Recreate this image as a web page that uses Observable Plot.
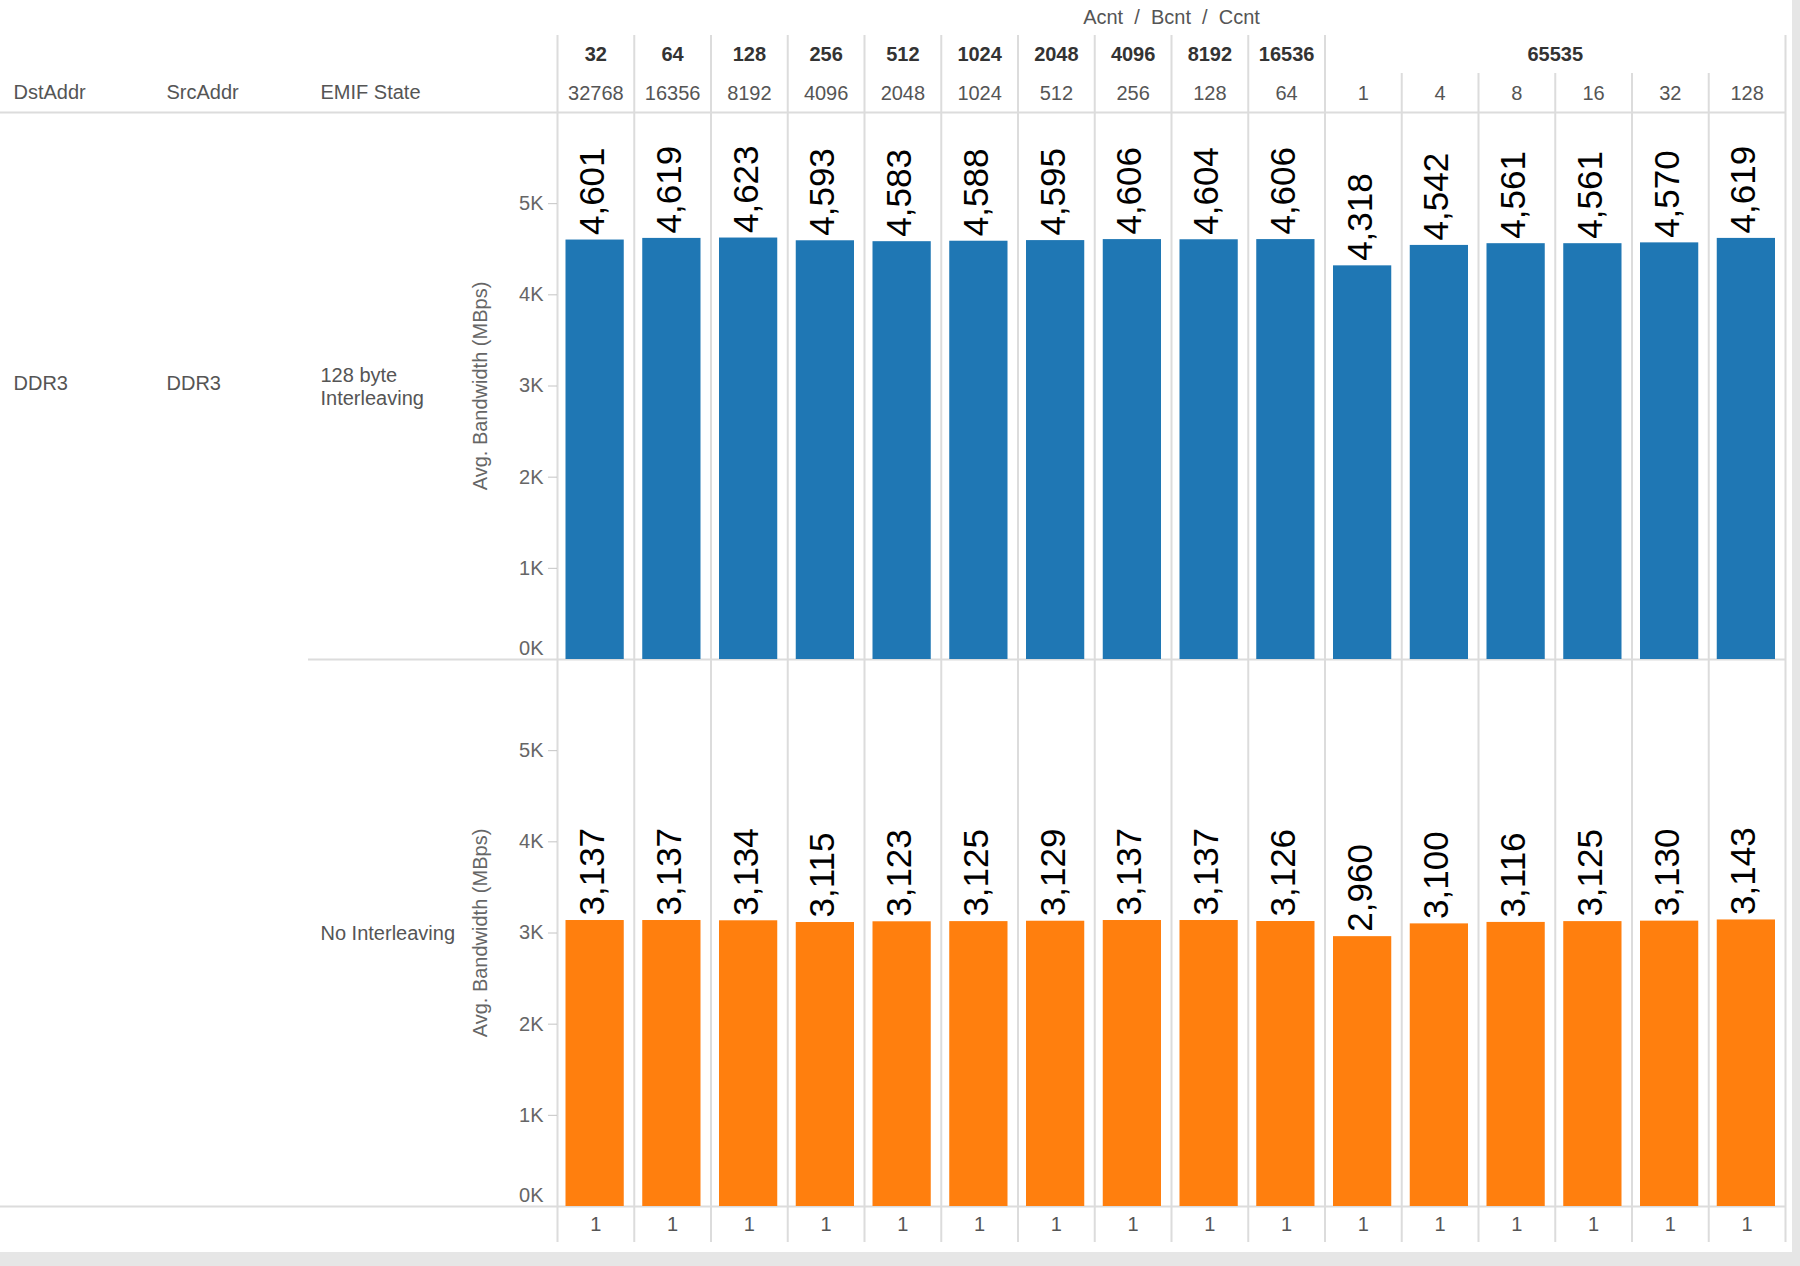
<!DOCTYPE html>
<html>
<head>
<meta charset="utf-8">
<script src="https://cdn.jsdelivr.net/npm/d3@7"></script>
<script src="https://cdn.jsdelivr.net/npm/@observablehq/plot@0.6"></script>
<style>
  html, body { margin: 0; padding: 0; background: #ffffff; }
  #wrap { position: relative; width: 1800px; height: 1266px; background: #e6e6e6; overflow: hidden; }
  #paper { position: absolute; left: 0; top: 0; width: 1792px; height: 1252px; background: #ffffff; }
  #chart { position: absolute; left: 0; top: 0; }
</style>
</head>
<body>
<div id="wrap"><div id="paper"></div><div id="chart"></div></div>
<script>
// ---- data ----
const headerTitle = "Acnt\u00a0 /\u00a0 Bcnt\u00a0 /\u00a0 Ccnt";
const dimNames = ["DstAddr", "SrcAddr", "EMIF State"];
const dstAddr = ["DDR3"];
const srcAddr = ["DDR3"];
const states = ["128 byte Interleaving", "No Interleaving"];
const stateLabels = ["128 byte\nInterleaving", "No Interleaving"];
const acnt = [32, 64, 128, 256, 512, 1024, 2048, 4096, 8192, 16536, 65535, 65535, 65535, 65535, 65535, 65535];
const bcnt = [32768, 16356, 8192, 4096, 2048, 1024, 512, 256, 128, 64, 1, 4, 8, 16, 32, 128];
const ccnt = [1, 1, 1, 1, 1, 1, 1, 1, 1, 1, 1, 1, 1, 1, 1, 1];
const bwInterleave = [4601, 4619, 4623, 4593, 4583, 4588, 4595, 4606, 4604, 4606, 4318, 4542, 4561, 4561, 4570, 4619];
const bwNone = [3137, 3137, 3134, 3115, 3123, 3125, 3129, 3137, 3137, 3126, 2960, 3100, 3116, 3125, 3130, 3143];
const yTicks = [0, 1000, 2000, 3000, 4000, 5000];
const yDomain = [0, 6000];
const yLabel = "Avg. Bandwidth (MBps)";
const colors = ["#1f77b4", "#ff7f0e"];

// ---- derived tables ----
const n = acnt.length;
const rows = [];
[bwInterleave, bwNone].forEach((vals, k) =>
  vals.forEach((v, i) => rows.push({i, state: states[k], value: v})));
const bounds = d3.range(n + 1);
const isMajor = b => b === 0 || b === n || acnt[b] !== acnt[b - 1];
const groups = [];
acnt.forEach((a, i) => {
  if (i === 0 || a !== acnt[i - 1]) groups.push({a, start: i, end: i + 1});
  else groups[groups.length - 1].end = i + 1;
});
const topS = states[0], botS = states[1];
const fmt = d3.format(",");
const kfmt = d => d / 1000 + "K";

// ---- layout / style constants ----
const FONT = "'Liberation Sans', Arial, sans-serif";
const grid = {stroke: "#dcdcdc", strokeWidth: 2};
const dimDx = [-544, -391, -237];
const textGray = "#555";

const chart = Plot.plot({
  width: 1800,
  height: 1266,
  marginTop: 112,
  marginBottom: 60,
  marginLeft: 557,
  marginRight: 15,
  x: {domain: [0, n], axis: null},
  y: {domain: yDomain, axis: null},
  fy: {domain: states, padding: 0, axis: null, round: false},
  color: {domain: states, range: colors},
  style: {background: "transparent", fontFamily: FONT, fontSize: "20px", color: textGray, overflow: "visible"},
  marks: [
    // vertical column separators
    Plot.ruleX(bounds.filter(isMajor), {x: d => d, fy: () => topS, insetTop: -77, ...grid}),
    Plot.ruleX(bounds.filter(b => !isMajor(b)), {x: d => d, fy: () => topS, insetTop: -39, ...grid}),
    Plot.ruleX(bounds, {x: d => d, fy: () => botS, insetBottom: -36, ...grid}),
    // horizontal separators
    Plot.ruleY([yDomain[1]], {y: d => d, fy: () => topS, insetLeft: -557, ...grid}),
    Plot.ruleY([0], {y: d => d, fy: () => topS, insetLeft: -249, ...grid}),
    Plot.ruleY([0], {y: d => d, fy: () => botS, insetLeft: -557, ...grid}),
    // bars
    Plot.rect(rows, {x1: "i", x2: d => d.i + 1, y1: 0, y2: "value", fy: "state", fill: "state", insetLeft: 8.5, insetRight: 10}),
    // value labels
    Plot.text(rows, {x: d => d.i + 0.5, y: "value", fy: "state", text: d => fmt(d.value), rotate: -90, textAnchor: "start", dy: -5, dx: -3, fontSize: 35, fill: "#000"}),
    // y axes
    Plot.axisY({ticks: yTicks.filter(t => t > 0), tickFormat: kfmt, tickSize: 9, tickPadding: 5, stroke: "#c4c4c4", fill: "#666", fontSize: 20, label: null}),
    Plot.axisY({ticks: yTicks.filter(t => t === 0), tickFormat: kfmt, tickSize: 0, tickPadding: 14, dy: -11, fill: "#666", fontSize: 20, label: null}),
    Plot.text(states, {fy: d => d, text: () => yLabel, frameAnchor: "left", dx: -77, rotate: -90, textAnchor: "middle", fontSize: 20, fill: "#666"}),
    // column header
    Plot.text([headerTitle], {fy: () => topS, text: d => d, frameAnchor: "top", dy: -103, fontSize: 20, fill: textGray}),
    Plot.text(groups, {x: d => (d.start + d.end) / 2, fy: () => topS, text: d => String(d.a), frameAnchor: "top", dy: -66, fontSize: 20, fontWeight: "bold", fill: "#333"}),
    Plot.text(bcnt, {x: (d, i) => i + 0.5, fy: () => topS, text: d => String(d), frameAnchor: "top", dy: -27, fontSize: 20, fill: textGray}),
    // footer (Ccnt)
    Plot.text(ccnt, {x: (d, i) => i + 0.5, fy: () => botS, text: d => String(d), frameAnchor: "bottom", dy: 24, fontSize: 20, fill: textGray}),
    // row dimension headers
    ...dimNames.map((name, k) => Plot.text([name], {fy: () => topS, text: d => d, frameAnchor: "top-left", dx: dimDx[k], dy: -28, textAnchor: "start", fontSize: 20, fill: textGray})),
    Plot.text(dstAddr, {fy: () => topS, text: d => d, frameAnchor: "left", dx: dimDx[0], dy: -2, textAnchor: "start", fontSize: 20, fill: textGray}),
    Plot.text(srcAddr, {fy: () => topS, text: d => d, frameAnchor: "left", dx: dimDx[1], dy: -2, textAnchor: "start", fontSize: 20, fill: textGray}),
    Plot.text(states, {fy: d => d, text: (d, i) => stateLabels[i], frameAnchor: "left", dx: dimDx[2], textAnchor: "start", lineHeight: 1.15, fontSize: 20, fill: textGray})
  ]
});
document.getElementById("chart").appendChild(chart);
</script>
</body>
</html>
